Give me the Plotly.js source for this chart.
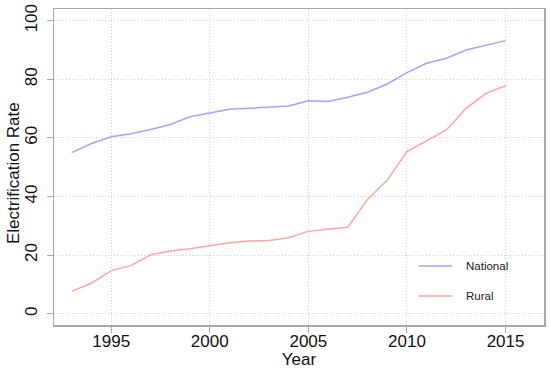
<!DOCTYPE html>
<html>
<head>
<meta charset="utf-8">
<script src="https://cdn.plot.ly/plotly-3.0.1.min.js"></script>
<style>html,body{margin:0;padding:0;background:#fff;}#chart{width:550px;height:369px;}</style>
</head>
<body>
<div id="chart"></div>
<script>
const years = [1993,1994,1995,1996,1997,1998,1999,2000,2001,2002,2003,2004,2005,2006,2007,2008,2009,2010,2011,2012,2013,2014,2015];
const national = [55.0,58.1,60.4,61.4,62.9,64.6,67.2,68.4,69.8,70.1,70.5,70.9,72.7,72.4,73.9,75.6,78.4,82.3,85.5,87.2,90.0,91.7,93.2];
const rural = [7.7,10.4,14.7,16.4,20.1,21.4,22.2,23.2,24.2,24.8,25.0,25.9,28.1,28.8,29.5,39.0,45.6,55.3,58.9,62.7,70.1,75.2,77.8];
const seriesNames = ["National","Rural"];
const xTicks = [1995,2000,2005,2010,2015];
const yTicks = [0,20,40,60,80,100];
const xTitle = "Year", yTitle = "Electrification Rate";

const blue = "#a3a3ff", red = "#ffa3a3";
const font = "Liberation Sans, Arial, sans-serif";

const traces = [
  {x: years, y: national, type: "scatter", mode: "lines", name: seriesNames[0], line: {color: blue, width: 1.5}, showlegend: false},
  {x: years, y: rural, type: "scatter", mode: "lines", name: seriesNames[1], line: {color: red, width: 1.5}, showlegend: false}
];

const legY = [0.187, 0.092];
const shapes = [], annotations = [];
[blue, red].forEach((c, i) => {
  shapes.push({type: "line", xref: "paper", yref: "paper", x0: 0.744, x1: 0.812, y0: legY[i], y1: legY[i], line: {color: c, width: 1.5}});
  annotations.push({xref: "paper", yref: "paper", x: 0.837, y: legY[i], xanchor: "left", yanchor: "middle", text: seriesNames[i], showarrow: false, font: {family: font, size: 11.5, color: "#222"}});
});
annotations.push({xref: "paper", yref: "paper", x: 0, xshift: -41, y: 0.5, yshift: -6, xanchor: "center", yanchor: "middle", textangle: -90, text: yTitle, showarrow: false, font: {family: font, size: 17, color: "#111"}});

const axisCommon = {
  showline: true, mirror: true, linecolor: "#a8a8a8", linewidth: 1.5,
  ticks: "outside", ticklen: 6, tickcolor: "#a8a8a8", tickwidth: 1,
  showgrid: true, gridcolor: "#d0d0d0", griddash: "1px,2px", gridwidth: 1,
  zeroline: false, tickfont: {family: font, size: 17, color: "#111"}, automargin: false
};

const layout = {
  width: 550, height: 369,
  margin: {l: 54, r: 6, t: 9, b: 44},
  paper_bgcolor: "#fff", plot_bgcolor: "#fff",
  showlegend: false,
  xaxis: Object.assign({}, axisCommon, {
    range: [1992.1, 2016.95], tickvals: xTicks, ticktext: xTicks.map(String),
    ticklabelstandoff: -6,
    title: {text: xTitle, font: {family: font, size: 17, color: "#111"}, standoff: 0}
  }),
  yaxis: Object.assign({}, axisCommon, {
    range: [-3.86, 104], tickvals: yTicks, ticktext: yTicks.map(String), tickangle: -90,
    ticklabelstandoff: 3
  }),
  shapes: shapes, annotations: annotations
};

Plotly.newPlot("chart", traces, layout, {displayModeBar: false, staticPlot: true});
</script>
</body>
</html>
